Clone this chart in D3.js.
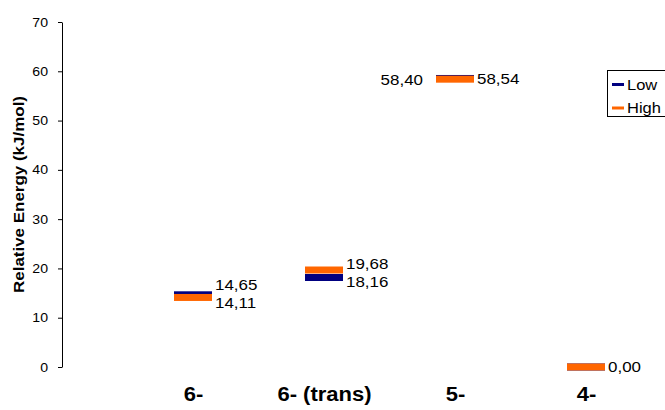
<!DOCTYPE html>
<html>
<head>
<meta charset="utf-8">
<script src="https://cdn.jsdelivr.net/npm/d3@7"></script>
<style>
  html, body { margin: 0; padding: 0; background: #fff; }
  svg { display: block; font-family: Arial, "Liberation Sans", sans-serif; }
</style>
</head>
<body>
<svg id="chart" width="665" height="410"></svg>
<script>
// Conformer names and relative energies (kJ/mol) at two levels of theory
const categories = ["6-", "6- (trans)", "5-", "4-"];
const lowValues  = [14.65, 18.16, 58.54, 0.00];
const highValues = [14.11, 19.68, 58.40, 0.00];
const yTicks = [0, 10, 20, 30, 40, 50, 60, 70];
const seriesNames = ["Low", "High"];
const seriesColors = ["#000080", "#FF6600"];

// Label placement per point: side of the mark and vertical nudge (px)
const lowLabelPos  = [{side: "right", dy: -10}, {side: "right", dy: 4}, {side: "right", dy: 0}, null];
const highLabelPos = [{side: "right", dy: 5}, {side: "right", dy: -6}, {side: "left", dy: 0}, {side: "right", dy: 0}];

const fmt = v => v.toFixed(2).replace(".", ",");
const WIDE = 1.13; // horizontal stretch of the lettering

// move a text's x/y into a transform so it can be widened about its anchor
function widen(sel, k) {
  sel.each(function () {
    const t = d3.select(this);
    const tx = +t.attr("x") || 0, ty = +t.attr("y") || 0;
    t.attr("x", 0).attr("y", 0).attr("transform", `translate(${tx},${ty}) scale(${k},1)`);
  });
}

const svg = d3.select("#chart");
const axisX = 62;

const y = d3.scaleLinear().domain([0, 70]).range([367, 22]);
// a leading empty slot keeps the first conformer one step right of the value axis
const x = d3.scalePoint().domain(["", ...categories]).range([axisX, axisX + 131 * 4]);

// value axis
const yAxis = svg.append("g")
  .attr("transform", `translate(${axisX},0)`)
  .call(d3.axisLeft(y).tickValues(yTicks).tickSize(4).tickSizeOuter(0).tickPadding(10));
yAxis.select(".domain").attr("stroke", "#000").attr("stroke-width", 1);
yAxis.selectAll(".tick line").attr("stroke", "#000");
yAxis.selectAll(".tick text")
  .attr("font-size", 12.5).attr("font-family", "Arial, 'Liberation Sans', sans-serif").attr("fill", "#000")
  .call(widen, WIDE);

// axis title
svg.append("text")
  .attr("transform", `translate(24,${(y(0) + y(70)) / 2}) rotate(-90)`)
  .attr("text-anchor", "middle")
  .attr("font-size", 14).attr("font-weight", "bold")
  .attr("textLength", 197).attr("lengthAdjust", "spacingAndGlyphs")
  .text("Relative Energy (kJ/mol)");

// category labels
const xAxis = svg.append("g")
  .attr("transform", "translate(0,386)")
  .call(d3.axisBottom(x).tickValues(categories).tickSize(0).tickPadding(0));
xAxis.select(".domain").remove();
xAxis.selectAll(".tick text")
  .attr("font-size", 19.5).attr("font-weight", "bold")
  .attr("font-family", "Arial, 'Liberation Sans', sans-serif")
  .attr("fill", "#000").attr("dy", "0.75em")
  .call(widen, WIDE);

// energy level marks
const markW = 38, markH = 7;
const series = [lowValues, highValues];
series.forEach((vals, si) => {
  svg.append("g").selectAll("rect")
    .data(vals.map((v, i) => ({v, c: categories[i]})))
    .join("rect")
    .attr("x", d => x(d.c) - markW / 2)
    .attr("y", d => y(d.v) - markH / 2)
    .attr("width", markW)
    .attr("height", markH)
    .attr("fill", seriesColors[si]);
});

// value labels
[[lowValues, lowLabelPos], [highValues, highLabelPos]].forEach(([vals, pos]) => {
  svg.append("g").selectAll("text")
    .data(vals.map((v, i) => ({v, c: categories[i], p: pos[i]})).filter(d => d.p))
    .join("text")
    .attr("x", d => d.p.side === "right" ? x(d.c) + markW / 2 + 3 : x(d.c) - markW / 2 - 13)
    .attr("y", d => y(d.v) + d.p.dy)
    .attr("dy", "0.36em")
    .attr("text-anchor", d => d.p.side === "right" ? "start" : "end")
    .attr("font-size", 15)
    .attr("fill", "#000")
    .text(d => fmt(d.v))
    .call(widen, WIDE);
});

// legend
const legend = svg.append("g").attr("transform", "translate(607,70)");
legend.append("rect")
  .attr("x", 0.5).attr("y", 0.5).attr("width", 70).attr("height", 46)
  .attr("fill", "#fff").attr("stroke", "#000").attr("stroke-width", 1);
seriesNames.forEach((name, i) => {
  const ly = 14.5 + i * 23.5;
  legend.append("line")
    .attr("x1", 5).attr("x2", 17).attr("y1", ly).attr("y2", ly)
    .attr("stroke", seriesColors[i]).attr("stroke-width", 3);
  legend.append("text")
    .attr("x", 20).attr("y", ly).attr("dy", "0.36em")
    .attr("font-size", 15).attr("fill", "#000")
    .text(name)
    .call(widen, 1.1);
});
</script>
</body>
</html>
